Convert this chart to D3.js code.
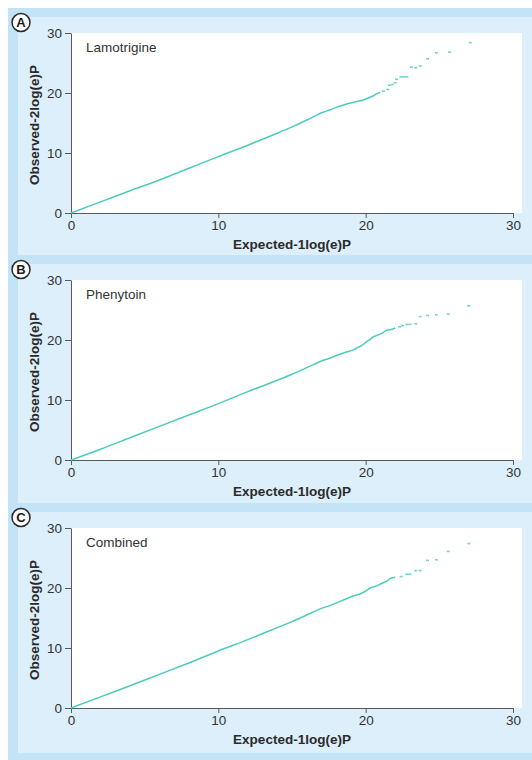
<!DOCTYPE html>
<html>
<head>
<meta charset="utf-8">
<script src="https://cdn.jsdelivr.net/npm/d3@7"></script>
<style>
  html, body { margin: 0; padding: 0; background: #ffffff; }
  svg { display: block; }
</style>
</head>
<body>
<div id="chart"></div>
<script>
// ---------------- DATA ----------------
const panelLetters = ["A", "B", "C"];
const panelNames = ["Lamotrigine", "Phenytoin", "Combined"];
const xTicks = [0, 10, 20, 30];
const yTicks = [0, 10, 20, 30];
const xTitle = "Expected-1log(e)P";
const yTitle = "Observed-2log(e)P";

// Panel A (Lamotrigine): dense part of the QQ curve
const expectedA = [0, 2, 4, 6, 8, 10, 12, 13, 14, 15, 16, 16.5, 17, 17.6, 18.0, 18.5, 18.9, 19.4, 19.8, 20.3, 20.5, 20.7, 21.0];
const observedA = [0, 1.85, 3.7, 5.5, 7.45, 9.4, 11.3, 12.3, 13.3, 14.35, 15.5, 16.1, 16.7, 17.2, 17.6, 18.0, 18.3, 18.6, 18.8, 19.3, 19.5, 19.8, 20.1];
// Panel A: sparse tail points
const tailExpectedA = [21.2, 21.5, 21.6, 21.8, 22.0, 22.1, 22.4, 22.6, 22.8, 23.1, 23.4, 23.7, 24.2, 24.8, 25.7, 27.1];
const tailObservedA = [20.3, 20.6, 21.3, 21.4, 21.7, 22.3, 22.7, 22.7, 22.7, 24.3, 24.2, 24.5, 25.7, 26.7, 26.8, 28.4];

// Panel B (Phenytoin)
const expectedB = [0, 2, 4, 6, 8, 10, 12, 14, 15, 16, 17, 17.6, 18.1, 18.7, 19.2, 19.5, 19.8, 20.0, 20.3, 20.5, 20.8, 21.1, 21.4, 21.8, 22.0];
const observedB = [0, 1.8, 3.7, 5.6, 7.5, 9.4, 11.4, 13.3, 14.3, 15.4, 16.5, 17.0, 17.5, 18.0, 18.4, 18.8, 19.2, 19.6, 20.1, 20.5, 20.8, 21.1, 21.6, 21.8, 22.0];
const tailExpectedB = [22.3, 22.5, 22.8, 23.0, 23.4, 23.7, 24.2, 24.8, 25.6, 27.0];
const tailObservedB = [22.2, 22.4, 22.6, 22.6, 22.7, 23.9, 24.1, 24.2, 24.3, 25.7];

// Panel C (Combined)
const expectedC = [0, 2, 4, 6, 8, 10, 12, 14, 15, 16, 17, 17.6, 18.1, 18.7, 19.2, 19.6, 20.0, 20.3, 20.8, 21.1, 21.4, 21.7, 22.0];
const observedC = [0, 1.85, 3.7, 5.6, 7.5, 9.5, 11.4, 13.4, 14.4, 15.5, 16.6, 17.1, 17.6, 18.2, 18.7, 19.0, 19.5, 20.0, 20.4, 20.8, 21.1, 21.6, 21.8];
const tailExpectedC = [22.4, 22.8, 23.0, 23.4, 23.7, 24.2, 24.8, 25.6, 27.0];
const tailObservedC = [21.9, 22.3, 22.3, 22.9, 22.9, 24.6, 24.7, 26.1, 27.4];

const denseExpected = [expectedA, expectedB, expectedC];
const denseObserved = [observedA, observedB, observedC];
const tailExpected = [tailExpectedA, tailExpectedB, tailExpectedC];
const tailObserved = [tailObservedA, tailObservedB, tailObservedC];

// ---------------- LAYOUT ----------------
const W = 532, H = 760;
const darkBlue = "#c3e3f6";
const lightBlue = "#ddeffb";
const lineColor = "#4ccbc0";
const axisColor = "#5a5a5a";
const font = "'Liberation Sans', Arial, Helvetica, sans-serif";

const plotLeft = 71, plotRight = 513, whiteRight = 522;
const plotTops = [33, 280, 528];
const plotH = 180;

const svg = d3.select("#chart").append("svg")
  .attr("width", W).attr("height", H)
  .style("font-family", font);

svg.append("rect").attr("x", 0).attr("y", 0).attr("width", W).attr("height", H).attr("fill", "#ffffff");
svg.append("rect").attr("x", 8).attr("y", 8).attr("width", W - 8).attr("height", H - 8).attr("fill", darkBlue);

const x = d3.scaleLinear().domain([0, 30]).range([plotLeft, plotRight]);

panelNames.forEach((name, i) => {
  const top = plotTops[i];
  const bandTop = top - 25;
  const lightBottom = i < 2 ? plotTops[i + 1] - 25 : 753;
  svg.append("rect")
    .attr("x", 18).attr("y", bandTop + 9)
    .attr("width", W - 18).attr("height", lightBottom - (bandTop + 9))
    .attr("fill", lightBlue);

  const y = d3.scaleLinear().domain([0, 30]).range([top + plotH, top]);

  // white plot area
  svg.append("rect")
    .attr("x", plotLeft).attr("y", top)
    .attr("width", whiteRight - plotLeft).attr("height", plotH)
    .attr("fill", "#ffffff");

  // axes
  const gx = svg.append("g")
    .attr("transform", `translate(0,${top + plotH})`)
    .call(d3.axisBottom(x).tickValues(xTicks).tickSize(5).tickPadding(2).tickSizeOuter(0));
  const gy = svg.append("g")
    .attr("transform", `translate(${plotLeft},0)`)
    .call(d3.axisLeft(y).tickValues(yTicks).tickSize(6).tickPadding(3).tickSizeOuter(0));
  [gx, gy].forEach(g => {
    g.select(".domain").attr("stroke", axisColor).attr("stroke-width", 1);
    g.selectAll(".tick line").attr("stroke", axisColor).attr("stroke-width", 1);
    g.selectAll(".tick text")
      .attr("fill", "#333")
      .style("font-size", "13.5px")
      .style("font-family", font);
  });

  // axis titles
  svg.append("text")
    .attr("x", (plotLeft + plotRight) / 2)
    .attr("y", top + plotH + 36)
    .attr("text-anchor", "middle")
    .attr("fill", "#2a2a2a")
    .style("font-size", "13.5px")
    .style("font-weight", "bold")
    .text(xTitle);
  svg.append("text")
    .attr("transform", `translate(38.5,${top + plotH / 2 + 2}) rotate(-90)`)
    .attr("text-anchor", "middle")
    .attr("fill", "#2a2a2a")
    .style("font-size", "13.5px")
    .style("font-weight", "bold")
    .text(yTitle);

  // panel name
  svg.append("text")
    .attr("x", 86).attr("y", top + 19)
    .attr("fill", "#333")
    .style("font-size", "13.5px")
    .text(name);

  // QQ curve (dense part)
  const pts = denseExpected[i].map((e, k) => [e, denseObserved[i][k]]);
  svg.append("path")
    .datum(pts)
    .attr("fill", "none")
    .attr("stroke", lineColor)
    .attr("stroke-width", 1.5)
    .attr("d", d3.line().curve(d3.curveMonotoneX).x(d => x(d[0])).y(d => y(d[1])));

  // tail points as small dashes
  const tail = tailExpected[i].map((e, k) => [e, tailObserved[i][k]]);
  svg.append("g").selectAll("rect")
    .data(tail)
    .join("rect")
    .attr("x", d => x(d[0]) - 1.5)
    .attr("y", d => y(d[1]) - 0.8)
    .attr("width", 3)
    .attr("height", 1.6)
    .attr("fill", lineColor)
    .attr("opacity", 0.8);

  // circled panel letter
  const cy = bandTop + 14.5;
  svg.append("circle")
    .attr("cx", 21).attr("cy", cy).attr("r", 9)
    .attr("fill", "#ffffff")
    .attr("stroke", "#2a2a2a")
    .attr("stroke-width", 1.5);
  svg.append("text")
    .attr("x", 21).attr("y", cy + 4.8)
    .attr("text-anchor", "middle")
    .attr("fill", "#1a1a1a")
    .style("font-size", "13px")
    .style("font-weight", "bold")
    .text(panelLetters[i]);
});
</script>
</body>
</html>
